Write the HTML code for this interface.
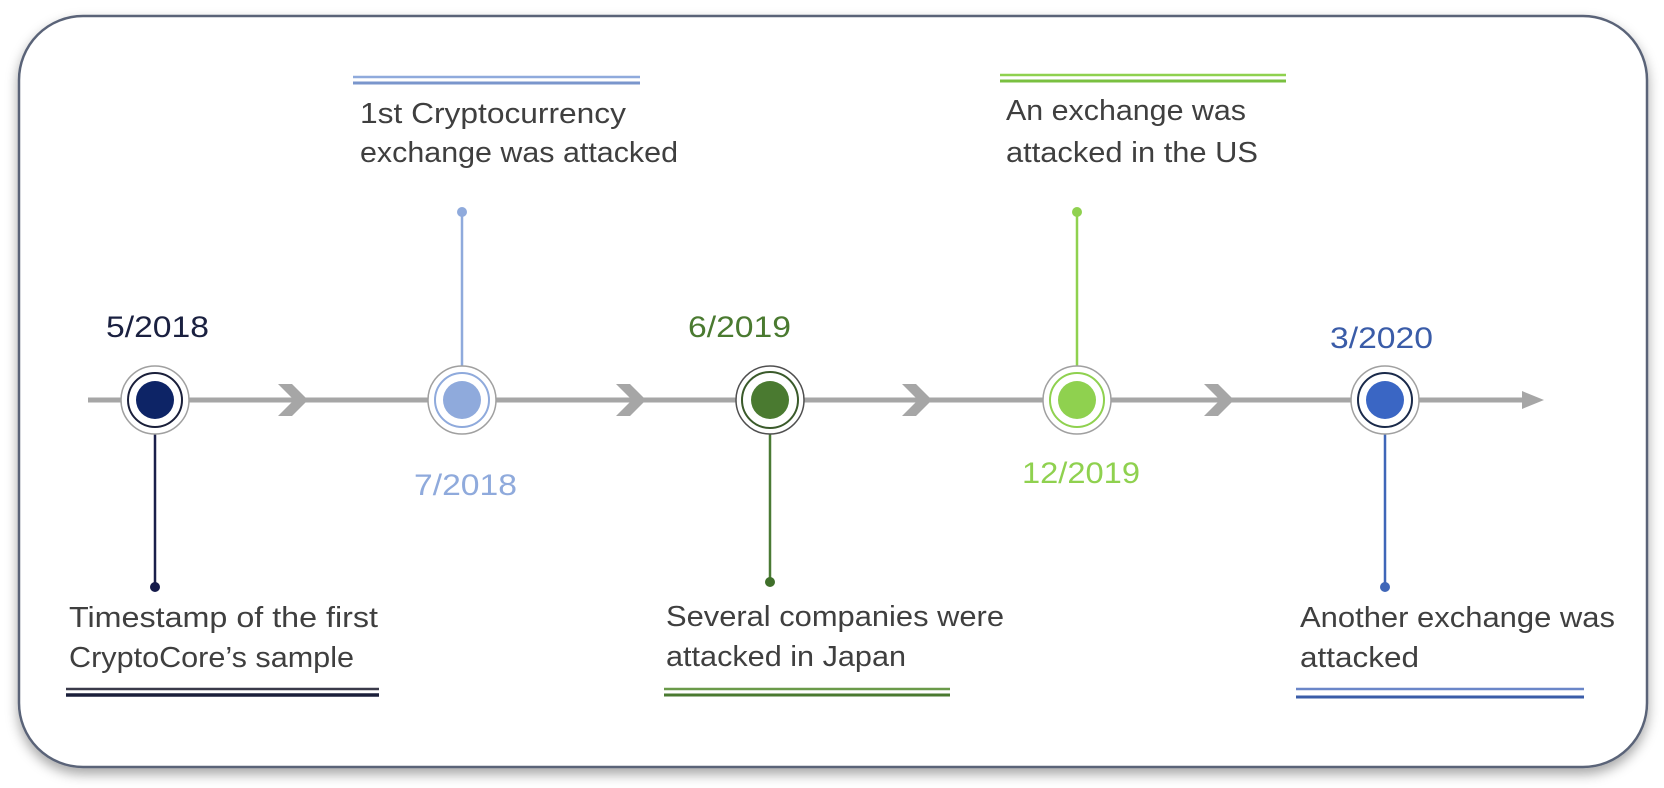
<!DOCTYPE html>
<html><head><meta charset="utf-8"><style>
html,body{margin:0;padding:0;background:#fff;width:1664px;height:788px;overflow:hidden}
svg{display:block}
text{font-family:"Liberation Sans",sans-serif}
</style></head><body>
<svg width="1664" height="788" viewBox="0 0 1664 788" xmlns="http://www.w3.org/2000/svg">
<defs>
<filter id="sh" x="-5%" y="-5%" width="110%" height="115%"><feDropShadow dx="0" dy="6" stdDeviation="6" flood-color="#000" flood-opacity="0.35"/></filter>
</defs>
<rect x="19" y="16" width="1628" height="751" rx="64" fill="#fff" stroke="#5a6478" stroke-width="2.5" filter="url(#sh)"/>
<line x1="88" y1="400" x2="1528" y2="400" stroke="#a6a6a6" stroke-width="5"/>
<polygon points="1522,391 1544,400 1522,409" fill="#a6a6a6"/>
<g fill="#a6a6a6">
<polygon points="278,384 292,384 308,400 292,416 278,416 294,400"/>
<polygon points="616,384 630,384 646,400 630,416 616,416 632,400"/>
<polygon points="902,384 916,384 932,400 916,416 902,416 918,400"/>
<polygon points="1204,384 1218,384 1234,400 1218,416 1204,416 1220,400"/>
</g>
<g stroke-width="2.5">
<line x1="155" y1="400" x2="155" y2="587" stroke="#1a1f4a"/>
<line x1="462" y1="400" x2="462" y2="212" stroke="#8faadc"/>
<line x1="770" y1="400" x2="770" y2="582" stroke="#4a7a34"/>
<line x1="1077" y1="400" x2="1077" y2="212" stroke="#8fd14f"/>
<line x1="1385" y1="400" x2="1385" y2="587" stroke="#3f66b8"/>
</g>
<circle cx="155" cy="587" r="5" fill="#141a4a"/>
<circle cx="462" cy="212" r="5" fill="#8faadc"/>
<circle cx="770" cy="582" r="5" fill="#3f6f2a"/>
<circle cx="1077" cy="212" r="5" fill="#8fd14f"/>
<circle cx="1385" cy="587" r="5" fill="#3f66b8"/>
<g fill="#fff">
<circle cx="155" cy="400" r="34" stroke="#a0a0a0" stroke-width="1.5"/>
<circle cx="155" cy="400" r="27" stroke="#1a1f3a" stroke-width="2"/>
<circle cx="155" cy="400" r="19" fill="#0d2466"/>
<circle cx="462" cy="400" r="34" stroke="#a0a0a0" stroke-width="1.5"/>
<circle cx="462" cy="400" r="27" stroke="#8faadc" stroke-width="2"/>
<circle cx="462" cy="400" r="19" fill="#8faadc"/>
<circle cx="770" cy="400" r="34" stroke="#505050" stroke-width="1.5"/>
<circle cx="770" cy="400" r="28" stroke="#3a5a2a" stroke-width="2"/>
<circle cx="770" cy="400" r="19" fill="#4a7a30"/>
<circle cx="1077" cy="400" r="34" stroke="#a0a0a0" stroke-width="1.5"/>
<circle cx="1077" cy="400" r="27" stroke="#8fd14f" stroke-width="2"/>
<circle cx="1077" cy="400" r="19" fill="#8fd14f"/>
<circle cx="1385" cy="400" r="34" stroke="#a0a0a0" stroke-width="1.5"/>
<circle cx="1385" cy="400" r="27" stroke="#1a2a4a" stroke-width="2"/>
<circle cx="1385" cy="400" r="19" fill="#3a66c4"/>
</g>
<g font-size="30">
<text x="106" y="337" fill="#1a2040" textLength="103" lengthAdjust="spacingAndGlyphs">5/2018</text>
<text x="414" y="495" fill="#8faadc" textLength="103" lengthAdjust="spacingAndGlyphs">7/2018</text>
<text x="688" y="337" fill="#4a7a30" textLength="103" lengthAdjust="spacingAndGlyphs">6/2019</text>
<text x="1022" y="483" fill="#8fd14f" textLength="118" lengthAdjust="spacingAndGlyphs">12/2019</text>
<text x="1330" y="348" fill="#3a5ca8" textLength="103" lengthAdjust="spacingAndGlyphs">3/2020</text>
</g>
<g font-size="29" fill="#3f3f3f">
<text x="69" y="627" textLength="309" lengthAdjust="spacingAndGlyphs">Timestamp of the first</text>
<text x="69" y="667" textLength="285" lengthAdjust="spacingAndGlyphs">CryptoCore’s sample</text>
<text x="360" y="123" textLength="266" lengthAdjust="spacingAndGlyphs">1st Cryptocurrency</text>
<text x="360" y="162" textLength="318" lengthAdjust="spacingAndGlyphs">exchange was attacked</text>
<text x="666" y="626" textLength="338" lengthAdjust="spacingAndGlyphs">Several companies were</text>
<text x="666" y="666" textLength="240" lengthAdjust="spacingAndGlyphs">attacked in Japan</text>
<text x="1006" y="120" textLength="240" lengthAdjust="spacingAndGlyphs">An exchange was</text>
<text x="1006" y="162" textLength="252" lengthAdjust="spacingAndGlyphs">attacked in the US</text>
<text x="1300" y="627" textLength="315" lengthAdjust="spacingAndGlyphs">Another exchange was</text>
<text x="1300" y="667" textLength="119" lengthAdjust="spacingAndGlyphs">attacked</text>
</g>
<g>
<line x1="66" y1="689" x2="379" y2="689" stroke="#3a3a4a" stroke-width="2.5"/>
<line x1="66" y1="695" x2="379" y2="695" stroke="#1a1f3a" stroke-width="3.5"/>
<line x1="353" y1="77" x2="640" y2="77" stroke="#8faadc" stroke-width="2.5"/>
<line x1="353" y1="83" x2="640" y2="83" stroke="#7a96cc" stroke-width="3"/>
<line x1="664" y1="689" x2="950" y2="689" stroke="#6a9a4a" stroke-width="2.5"/>
<line x1="664" y1="695" x2="950" y2="695" stroke="#4a7a30" stroke-width="3"/>
<line x1="1000" y1="75" x2="1286" y2="75" stroke="#8fd14f" stroke-width="2.5"/>
<line x1="1000" y1="81" x2="1286" y2="81" stroke="#7ac040" stroke-width="3"/>
<line x1="1296" y1="689" x2="1584" y2="689" stroke="#6a86c8" stroke-width="2.5"/>
<line x1="1296" y1="697" x2="1584" y2="697" stroke="#3a5ca8" stroke-width="3"/>
</g>
</svg>
</body></html>
